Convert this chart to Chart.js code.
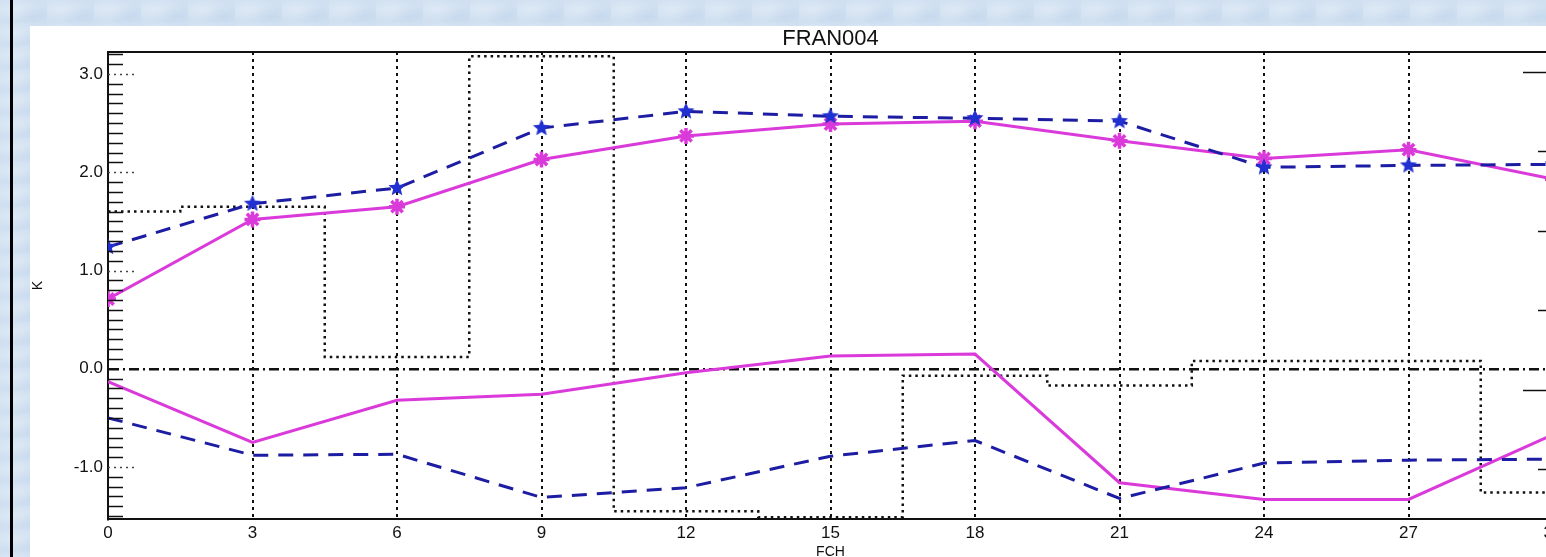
<!DOCTYPE html>
<html lang="en">
  <head>
    <meta charset="UTF-8">
    <script src="https://cdn.jsdelivr.net/npm/chart.js"></script>
    <title>FRAN004</title>
    <style>
      html, body{margin: 0; padding: 0; width: 1546px; height: 557px; overflow: hidden;
        background: #d0e0f1;
        background-image: radial-gradient(ellipse at 30% 40%, rgba(255,255,255,0.28) 0, rgba(255,255,255,0) 28px),
                          radial-gradient(ellipse at 75% 70%, rgba(170,195,225,0.25) 0, rgba(170,195,225,0) 22px);
        background-size: 47px 23px;}
      #bar{position: absolute; left: 10px; top: 0; width: 3px; height: 557px; background: #000;}
      #panel{position: absolute; left: 30px; top: 26px; width: 1516px; height: 531px; background: #fff;}
      #wrap{position: absolute; left: 0; top: 0; width: 1620px; height: 570px;}
    </style>
  </head>
  <body>
    <div id="bar"></div>
    <div id="panel"></div>
    <div id="wrap">
      <canvas id="myChart" width="1620" height="570"></canvas>
    </div>
  <script>
    // forecast hours (x)
    const hours = [0, 3, 6, 9, 12, 15, 18, 21, 24, 27, 30];
    const xTicks = [0, 3, 6, 9, 12, 15, 18, 21, 24, 27, 30];
    const yTicks = [-1, 0, 1, 2, 3];
    const rightTicks = [-1, 0, 1, 2, 3, 4];
    const rightMajor = [0, 4];

    // upper pair (with markers)
    const blueUpper = [1.24, 1.68, 1.84, 2.45, 2.62, 2.57, 2.55, 2.52, 2.05, 2.07, 2.08];
    const magUpper  = [0.71, 1.52, 1.65, 2.13, 2.37, 2.49, 2.52, 2.32, 2.14, 2.23, 1.93];
    // lower pair
    const magLower  = [-0.13, -0.75, -0.32, -0.26, -0.04, 0.13, 0.15, -1.16, -1.33, -1.33, -0.67];
    const blueLower = [-0.50, -0.88, -0.87, -1.31, -1.21, -0.89, -0.73, -1.32, -0.96, -0.93, -0.92];
    // dotted step curve
    const stepVals  = [1.60, 1.65, 0.12, 3.18, -1.45, -1.51, -0.07, -0.17, 0.08, 0.08, -1.26];

    const BLUE = '#1d1da3';
    const STAR = '#2130d0';
    const MAG = '#db3adb';
    const FONT = '"Liberation Sans", Arial, sans-serif';

    function pts(arr){
      return hours.map(function(h, i){ return {x: h, y: arr[i]}; });
    }

    // filled 5 point star for the blue markers
    function makeStar(r, color){
      const c = document.createElement('canvas');
      c.width = c.height = 2 * r + 2;
      const g = c.getContext('2d');
      g.fillStyle = color;
      g.beginPath();
      for(let i = 0; i < 10; i++){
        const a = -Math.PI / 2 + i * Math.PI / 5;
        const rr = (i % 2) ? r * 0.45 : r;
        const px = r + 1 + rr * Math.cos(a), py = r + 1 + rr * Math.sin(a);
        if(i === 0) g.moveTo(px, py); else g.lineTo(px, py);
      }
      g.closePath();
      g.fill();
      return c;
    }
    const blueStar = makeStar(9, STAR);

    // extra axis decorations: inward minor ticks, dotted stubs, frame top, right ticks
    const decor = {
      id: 'decor',
      afterDraw(chart){
        const ctx = chart.ctx, area = chart.chartArea;
        const y = chart.scales.y, y2 = chart.scales.y2;
        ctx.save();
        ctx.strokeStyle = '#111';
        ctx.lineWidth = 1.5;
        for(let k = -15; k <= 32; k++){
          if(k % 10 === 0) continue;
          const py = Math.round(y.getPixelForValue(k / 10)) + 0.5;
          ctx.beginPath(); ctx.moveTo(area.left, py); ctx.lineTo(area.left + 15, py); ctx.stroke();
        }
        ctx.setLineDash([2, 4]);
        ctx.strokeStyle = '#444';
        yTicks.forEach(function(v){
          if(v === 0) return;
          const py = Math.round(y.getPixelForValue(v)) + 0.5;
          ctx.beginPath(); ctx.moveTo(area.left, py); ctx.lineTo(area.left + 26, py); ctx.stroke();
        });
        ctx.setLineDash([]);
        ctx.strokeStyle = '#111';
        rightTicks.forEach(function(v){
          const py = Math.round(y2.getPixelForValue(v)) + 0.5;
          const len = rightMajor.indexOf(v) >= 0 ? 30 : 15;
          ctx.beginPath(); ctx.moveTo(area.right - len, py); ctx.lineTo(area.right, py); ctx.stroke();
        });
        ctx.lineWidth = 2;
        ctx.beginPath(); ctx.moveTo(area.left, area.top); ctx.lineTo(area.right, area.top); ctx.stroke();
        ctx.restore();
      }
    };

    const ctx = document.getElementById('myChart');
    new Chart(ctx, {
      type: 'line',
      data: {
        datasets: [
          {
            label: 'blue upper', data: pts(blueUpper),
            borderColor: BLUE, backgroundColor: STAR, borderWidth: 3, borderDash: [15, 10],
            pointStyle: blueStar, pointRadius: 9, tension: 0, order: 1
          },
          {
            label: 'magenta upper', data: pts(magUpper),
            borderColor: MAG, backgroundColor: MAG, borderWidth: 3,
            pointStyle: 'star', pointRadius: 8, pointBorderWidth: 3.5, tension: 0, order: 2
          },
          {
            label: 'blue lower', data: pts(blueLower),
            borderColor: BLUE, borderWidth: 3, borderDash: [15, 10],
            pointRadius: 0, tension: 0, order: 3
          },
          {
            label: 'magenta lower', data: pts(magLower),
            borderColor: MAG, borderWidth: 3,
            pointRadius: 0, tension: 0, order: 4
          },
          {
            label: 'steps', data: pts(stepVals),
            borderColor: '#111', borderWidth: 2.5, borderDash: [2.5, 4],
            stepped: 'middle', pointRadius: 0, order: 5
          }
        ]
      },
      options: {
        responsive: false,
        animation: false,
        layout: {padding: {left: 0, top: 0, right: 67, bottom: 0}},
        plugins: {
          legend: {display: false},
          tooltip: {enabled: false},
          title: {
            display: true, text: 'FRAN004', fullSize: false, color: '#111',
            font: {family: FONT, size: 22, weight: 'normal'},
            padding: {top: 25.3, bottom: 0.3}
          }
        },
        scales: {
          x: {
            type: 'linear', min: 0, max: 30,
            afterBuildTicks: function(s){ s.ticks = xTicks.map(function(v){ return {value: v}; }); },
            afterFit: function(s){ s.height = 51; },
            grid: {color: '#111', lineWidth: 2, drawTicks: false},
            border: {display: true, color: '#111', width: 2, dash: [3, 4]},
            ticks: {color: '#111', padding: 4, maxRotation: 0, font: {family: FONT, size: 17}},
            title: {display: true, text: 'FCH', color: '#111', font: {family: FONT, size: 14}, padding: {top: 0, bottom: 9}}
          },
          y: {
            min: -1.529, max: 3.224,
            afterBuildTicks: function(s){ s.ticks = yTicks.map(function(v){ return {value: v}; }); },
            afterFit: function(s){ s.width = 108; },
            grid: {
              drawTicks: false, lineWidth: 2.5,
              color: function(c){ return c.tick && c.tick.value === 0 ? '#111' : 'rgba(0,0,0,0)'; }
            },
            border: {display: true, color: '#111', width: 2, dash: [10, 4, 2, 4]},
            ticks: {
              color: '#111', padding: 5, font: {family: FONT, size: 17},
              callback: function(v){ return Number(v).toFixed(1); }
            },
            title: {display: true, text: 'K', color: '#111', font: {family: FONT, size: 14}, padding: {top: 29.6, bottom: 0}}
          },
          y2: {
            display: false, position: 'right', min: -1.623, max: 4.25
          }
        }
      },
      plugins: [decor]
    });
  </script>
</body>
</html>
